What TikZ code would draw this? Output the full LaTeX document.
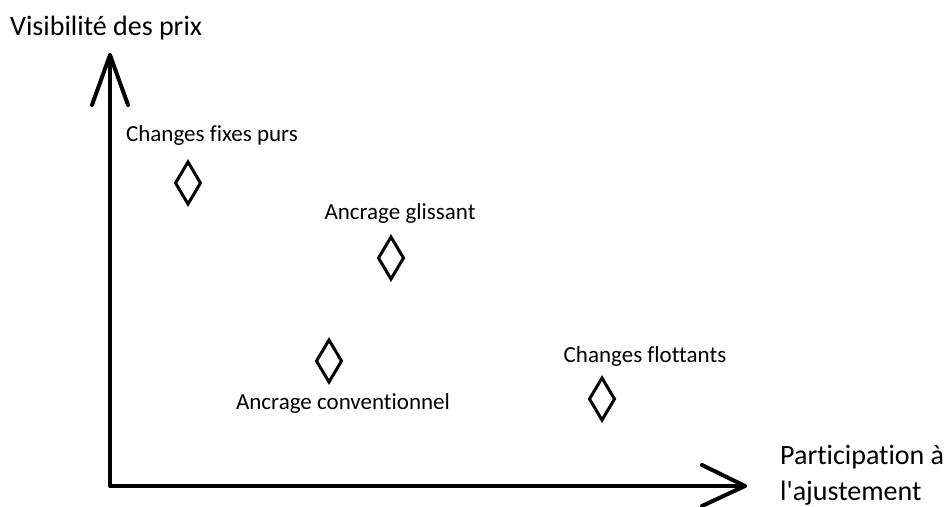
\documentclass[tikz,border=0pt]{standalone}
\usepackage{fontspec}
\setmainfont[Ligatures={NoCommon,TeXOff}]{Carlito}
\begin{document}
\begin{tikzpicture}[x=1pt,y=-1pt,
  axis/.style={line width=4pt,line cap=round,line join=round},
  lbl/.style={font=\fontsize{23}{27}\selectfont,inner sep=0pt},
  big/.style={font=\fontsize{28}{32}\selectfont,inner sep=0pt,anchor=west}]
\useasboundingbox (0,0) rectangle (944,506);
% axes
\coordinate (o) at (110,486);
\coordinate (ytip) at (110,55);
\coordinate (xtip) at (745,486);
\coordinate (yl) at (92,105);
\coordinate (yr) at (128,105);
\coordinate (xu) at (702,465);
\coordinate (xd) at (702,506);
\draw[axis] (ytip) -- (o) -- (xtip);
\draw[axis] (yl) -- (ytip) -- (yr);
\draw[axis] (xu) -- (xtip) -- (xd);
% diamonds
\foreach \n/\x/\y in {d1/188/183, d2/391/258, d3/329/361, d4/602/399}{
  \draw[line width=3pt,line join=miter] (\x,\y-21) -- (\x+12.5,\y) -- (\x,\y+21) -- (\x-12.5,\y) -- cycle;
}
% labels
\node[lbl] (l1) at (212,135) {Changes fixes purs};
\node[lbl] (l2) at (400,213) {Ancrage glissant};
\node[lbl] (l3) at (343,403) {Ancrage conventionnel};
\node[lbl] (l4) at (645,356) {Changes flottants};
\node[big] (ty) at (10,28) {Visibilité des prix};
\node[big] (tx1) at (780,457) {Participation à};
\node[big] (tx2) at (780,493) {l'ajustement};
\end{tikzpicture}
\end{document}
